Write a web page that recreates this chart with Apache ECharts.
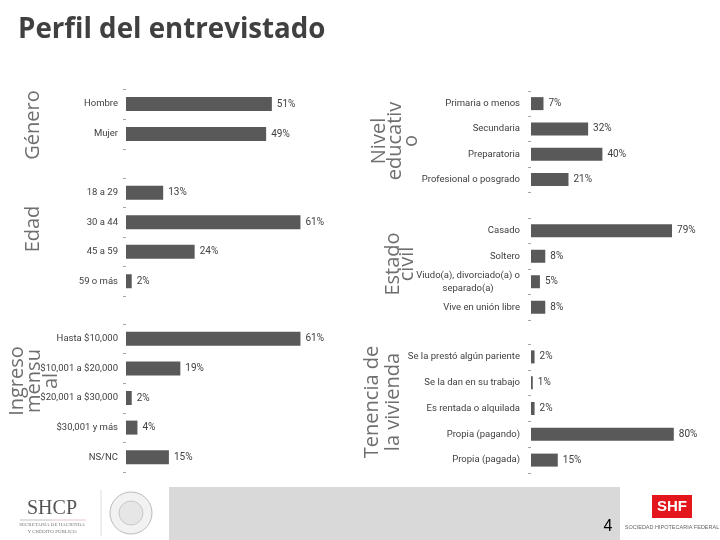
<!DOCTYPE html>
<html>
<head>
<meta charset="utf-8">
<script src="https://cdn.jsdelivr.net/npm/echarts@6/dist/echarts.min.js"></script>
<style>
html,body{margin:0;padding:0;background:#fff;}
#c{width:720px;height:540px;}
</style>
</head>
<body>
<div id="c"></div>
<script>
// ---- Data ----
const generoCats = ['Hombre', 'Mujer'];
const generoVals = [51, 49];
const edadCats = ['18 a 29', '30 a 44', '45 a 59', '59 o más'];
const edadVals = [13, 61, 24, 2];
const ingresoCats = ['Hasta $10,000', '$10,001 a $20,000', '$20,001 a $30,000', '$30,001 y más', 'NS/NC'];
const ingresoVals = [61, 19, 2, 4, 15];
const nivelCats = ['Primaria o menos', 'Secundaria', 'Preparatoria', 'Profesional o posgrado'];
const nivelVals = [7, 32, 40, 21];
const civilCats = ['Casado', 'Soltero', 'Viudo(a), divorciado(a) o\nseparado(a)', 'Vive en unión libre'];
const civilVals = [79, 8, 5, 8];
const tenenciaCats = ['Se la prestó algún pariente', 'Se la dan en su trabajo', 'Es rentada o alquilada', 'Propia (pagando)', 'Propia (pagada)'];
const tenenciaVals = [2, 1, 2, 80, 15];

const panels = [
  {cats: generoCats, vals: generoVals, left: 126, width: 286, top: 89, height: 60, bw: 14, margin: 8},
  {cats: edadCats, vals: edadVals, left: 126, width: 286, top: 178, height: 118, bw: 14, margin: 8},
  {cats: ingresoCats, vals: ingresoVals, left: 126, width: 286, top: 324, height: 148, bw: 14, margin: 8},
  {cats: nivelCats, vals: nivelVals, left: 531, width: 178.5, top: 91, height: 101, bw: 13, margin: 11},
  {cats: civilCats, vals: civilVals, left: 531, width: 178.5, top: 218, height: 102, bw: 13, margin: 11},
  {cats: tenenciaCats, vals: tenenciaVals, left: 531, width: 178.5, top: 344, height: 129, bw: 13, margin: 11}
];

const LBL_FONT = 'Roboto, "Liberation Sans", sans-serif';
const LBL_SIZE = 9.5;
const grids = [], xAxes = [], yAxes = [], series = [];
panels.forEach((p, i) => {
  grids.push({left: p.left, top: p.top, width: p.width, height: p.height, containLabel: false});
  xAxes.push({type: 'value', gridIndex: i, min: 0, max: 100, show: false});
  yAxes.push({
    type: 'category', gridIndex: i, data: p.cats, inverse: true,
    axisLine: {show: false},
    axisTick: {show: true, length: 3, lineStyle: {color: '#a6a6a6', width: 1}},
    axisLabel: {
      margin: p.margin, color: '#404040', fontSize: LBL_SIZE, fontFamily: LBL_FONT,
      lineHeight: 13,
      formatter: function (v) {
        if (v.indexOf('\n') >= 0) {
          return v.split('\n').map(s => '{m|' + s + '}').join('\n');
        }
        return v;
      },
      rich: {m: {align: 'center', fontSize: LBL_SIZE, fontFamily: LBL_FONT, color: '#404040', lineHeight: 13}}
    }
  });
  series.push({
    type: 'bar', xAxisIndex: i, yAxisIndex: i, data: p.vals, barWidth: p.bw,
    itemStyle: {color: '#595959'},
    label: {show: true, position: 'right', distance: 5, formatter: '{c}%',
      color: '#404040', fontSize: 10, fontFamily: LBL_FONT},
    silent: true, animation: false
  });
});

const TF = '"Open Sans", "Liberation Sans", sans-serif';
function vtitle(text, x, y, lh) {
  return {type: 'text', x: x, y: y, rotation: Math.PI / 2,
    style: {text: text, fontSize: 20, fontFamily: TF, fill: '#6f6f6f',
      align: 'center', verticalAlign: 'middle', lineHeight: lh || 17}};
}

const graphics = [
  {type: 'text', x: 18, y: 30, style: {text: 'Perfil del entrevistado', fontSize: 27.7, fontWeight: 'bold',
    fontFamily: TF, fill: '#404040', verticalAlign: 'middle'}},
  vtitle('Género', 33, 125),
  vtitle('Edad', 33, 229),
  vtitle('Ingreso\nmensu\nal', 34, 381, 17),
  vtitle('Nivel\neducativ\no', 395, 141, 16),
  vtitle('Estado\ncivil', 400, 264, 14),
  vtitle('Tenencia de\nla vivienda', 383, 402, 21),
  // footer
  {type: 'rect', shape: {x: 169, y: 487, width: 451, height: 53}, style: {fill: '#d9d9d9'}},
  {type: 'text', x: 608, y: 527, style: {text: '4', fontSize: 16, fontFamily: '"Liberation Sans", sans-serif', fill: '#000',
    align: 'center', verticalAlign: 'middle'}},
  {type: 'text', x: 52, y: 509, style: {text: 'SHCP', fontSize: 20, fontFamily: '"Liberation Serif", serif', fill: '#555',
    align: 'center', verticalAlign: 'middle'}},
  {type: 'line', shape: {x1: 20, y1: 520, x2: 52, y2: 520}, style: {stroke: '#999', lineWidth: 0.6}},
  {type: 'line', shape: {x1: 52, y1: 520, x2: 86, y2: 520}, style: {stroke: '#d9a0a0', lineWidth: 0.6}},
  {type: 'text', x: 52, y: 525, style: {text: 'SECRETARÍA DE HACIENDA', fontSize: 5, fontFamily: '"Liberation Serif", serif', fill: '#777',
    align: 'center', verticalAlign: 'middle'}},
  {type: 'text', x: 52, y: 532, style: {text: 'Y CRÉDITO PÚBLICO', fontSize: 5, fontFamily: '"Liberation Serif", serif', fill: '#777',
    align: 'center', verticalAlign: 'middle'}},
  {type: 'line', shape: {x1: 101, y1: 490, x2: 101, y2: 536}, style: {stroke: '#ddd', lineWidth: 1}},
  {type: 'circle', shape: {cx: 131, cy: 513, r: 21}, style: {fill: '#f2f2f2', stroke: '#bbb', lineWidth: 1}},
  {type: 'circle', shape: {cx: 131, cy: 513, r: 12}, style: {fill: '#e6e6e6', stroke: '#c8c8c8', lineWidth: 1}},
  {type: 'rect', shape: {x: 652, y: 495, width: 40, height: 23}, style: {fill: '#e3161b'}},
  {type: 'text', x: 672, y: 507, style: {text: 'SHF', fontSize: 15, fontWeight: 'bold', fontFamily: '"Liberation Sans", sans-serif', fill: '#fff',
    align: 'center', verticalAlign: 'middle'}},
  {type: 'text', x: 672, y: 527, style: {text: 'SOCIEDAD HIPOTECARIA FEDERAL', fontSize: 5.5, fontFamily: '"Liberation Sans", sans-serif', fill: '#666',
    align: 'center', verticalAlign: 'middle'}}
];

const chart = echarts.init(document.getElementById('c'), null, {renderer: 'canvas'});
chart.setOption({
  animation: false,
  backgroundColor: '#ffffff',
  grid: grids, xAxis: xAxes, yAxis: yAxes, series: series,
  graphic: graphics
});
</script>
</body>
</html>
